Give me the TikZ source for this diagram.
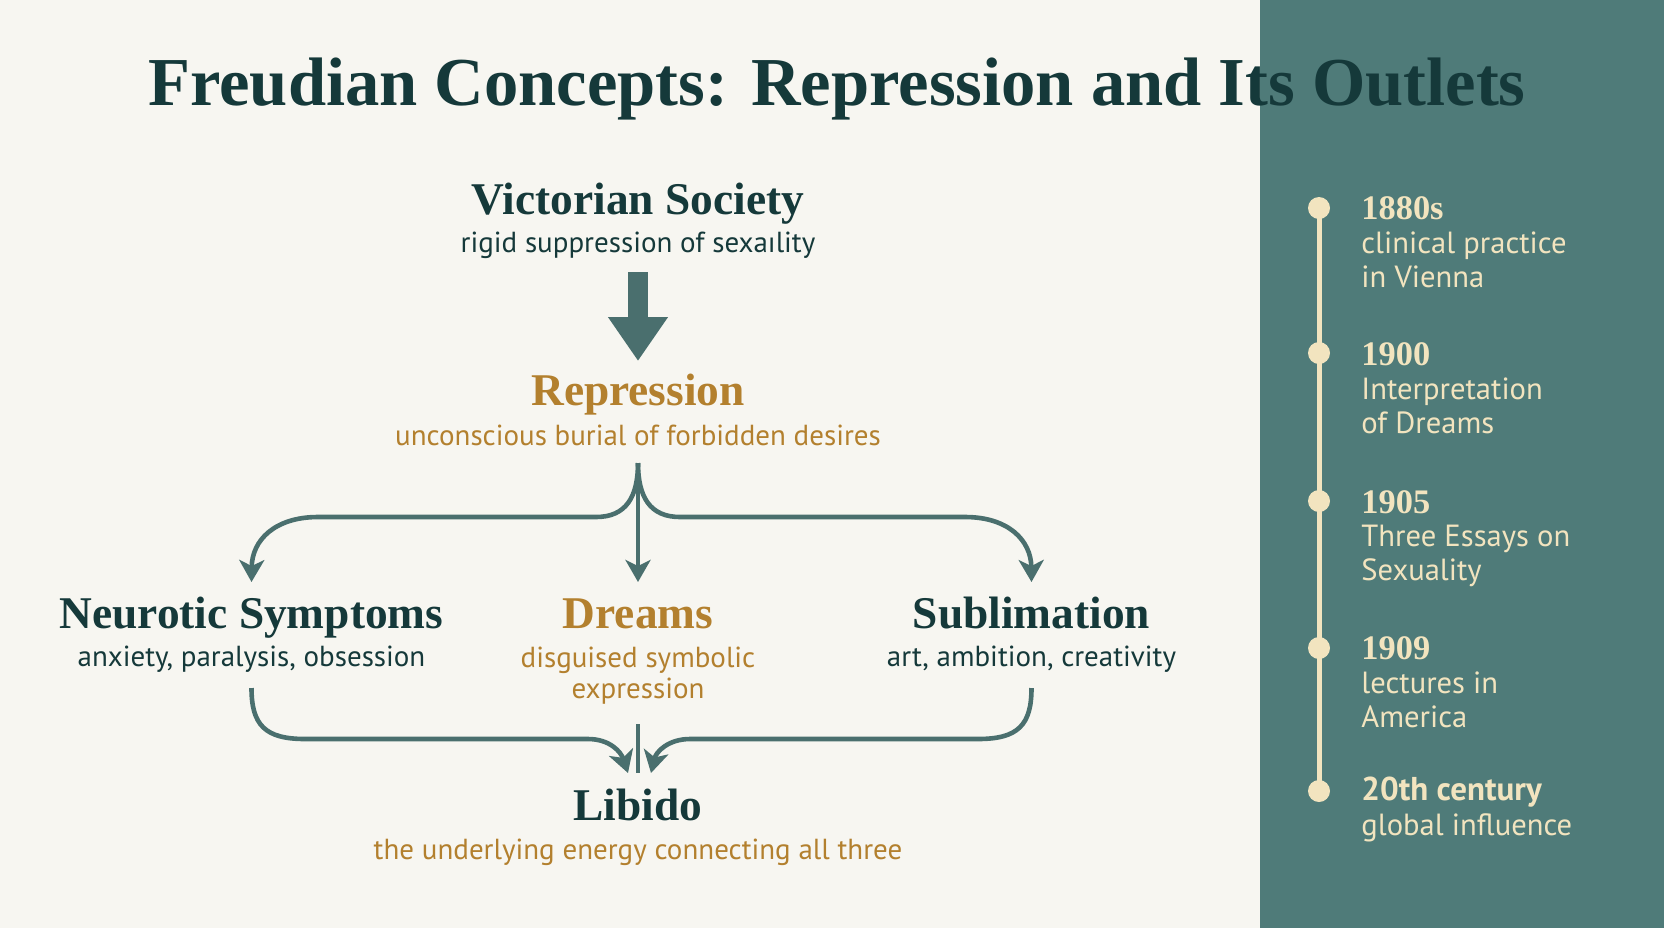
\documentclass[tikz,border=0pt]{standalone}
\usepackage{fontspec}
\setmainfont{Liberation Serif}
\setsansfont{PT Sans}
\usetikzlibrary{arrows.meta, positioning}
\definecolor{paper}{HTML}{F7F6F1}
\definecolor{ink}{HTML}{15393A}
\definecolor{ochre}{HTML}{B3802E}
\definecolor{slate}{HTML}{4A6F6E}
\definecolor{panel}{HTML}{4F7B79}
\definecolor{cream}{HTML}{F2E4BF}
\tikzset{
    freud/.style={x=0.5pt, y=-0.5pt, >={Stealth[length=11pt, width=12.5pt, inset=3pt]}},
    heading/.style={font=\fontsize{34.3}{40}\selectfont\bfseries, text=ink, inner sep=0pt, anchor=base},
    concept/.style={font=\fontsize{22.7}{26}\selectfont\bfseries, text=ink, inner sep=0pt, anchor=base},
    % multi-line glosses: the base anchor sits on the last line
    gloss/.style={font=\sffamily\fontsize{14.5}{15.5}\selectfont, text=ink, inner sep=0pt, anchor=base, align=center},
    flow/.style={draw=slate, line width=2.3pt, ->},
    bigarrow/.style={draw=slate, line width=10pt, -{Triangle[length=22pt, width=28.5pt]}},
    tdot/.style={fill=cream, circle, minimum size=11pt, inner sep=0pt},
    year/.style={font=\fontsize{17.2}{18}\selectfont\bfseries, text=cream, inner sep=0pt, anchor=base west},
    event/.style={font=\sffamily\fontsize{15.3}{17}\selectfont, text=cream, inner sep=0pt, anchor=base west, align=left},
}

\begin{document}
\begin{tikzpicture}[freud]
    % page and side panel
    \fill[paper] (0,0) rectangle (1664,928);
    \fill[panel] (1260,0) rectangle (1664,928);
    \useasboundingbox (0,0) rectangle (1664,928);

    \node[heading] (title) at (837,105) {Freudian Concepts: Repression and Its Outlets};

    % main chain
    \node[concept]             (vic)    at (638,214) {Victorian Society};
    \node[gloss]               (vicsub) at (638,252) {rigid suppression of sexaılity};
    \node[concept, text=ochre] (rep)    at (638,405) {Repression};
    \node[gloss, text=ochre]   (repsub) at (638,445) {unconscious burial of forbidden desires};

    \node[concept]             (neu)    at (251.5,628) {Neurotic Symptoms};
    \node[gloss]               (neusub) at (251.5,666) {anxiety, paralysis, obsession};
    \node[concept, text=ochre] (drm)    at (638,628) {Dreams};
    \node[gloss, text=ochre]   (drmsub) at (638,698) {disguised symbolic\\expression};
    \node[concept]             (sbl)    at (1031.5,628) {Sublimation};
    \node[gloss]               (sblsub) at (1031.5,666) {art, ambition, creativity};

    \node[concept]             (lib)    at (638,820) {Libido};
    \node[gloss, text=ochre]   (libsub) at (638,859) {the underlying energy connecting all three};

    \coordinate (vicfoot)  at (638,272);
    \coordinate (rephead)  at (638,361);
    \coordinate (fork)     at (638,463);
    \coordinate (neutop)   at (251.5,582);
    \coordinate (drmtop)   at (638,582);
    \coordinate (sbltop)   at (1031.5,582);
    \coordinate (neufoot)  at (251.5,688);
    \coordinate (drmfoot)  at (638,724);
    \coordinate (sblfoot)  at (1031.5,688);
    \coordinate (libleft)  at (628,773);
    \coordinate (libmid)   at (638,773);
    \coordinate (libright) at (651,773);

    \draw[bigarrow] (vicfoot) -- (rephead);

    \draw[flow] (fork) -- (drmtop);
    \draw[flow] (fork) .. controls (638,497) and (626,517) .. (596,517) -- (318,517)
        .. controls (275,517) and (252,540) .. (neutop);
    \draw[flow] (fork) .. controls (638,497) and (650,517) .. (680,517) -- (965,517)
        .. controls (1008,517) and (1031,540) .. (sbltop);

    \draw[flow] (neufoot) .. controls (251.5,725) and (265,739) .. (305,739) -- (588,739)
        .. controls (610,739) and (621,752) .. (libleft);
    \draw[slate, line width=2.3pt] (drmfoot) -- (libmid);
    \draw[flow] (sblfoot) .. controls (1031.5,725) and (1018,739) .. (978,739) -- (690,739)
        .. controls (668,739) and (656,752) .. (libright);

    % timeline
    \node[tdot] (t1) at (1319,208) {};
    \node[tdot] (t2) at (1319,353) {};
    \node[tdot] (t3) at (1319,501) {};
    \node[tdot] (t4) at (1319,648) {};
    \node[tdot] (t5) at (1319,791) {};
    \draw[cream, line width=2.5pt] (t1.center) -- (t5.center);

    \node[year]  (y1) at (1361,219) {1880s};
    \node[event] (e1) at (1361,287) {clinical practice\\in Vienna};
    \node[year]  (y2) at (1361,365) {1900};
    \node[event] (e2) at (1361,433) {Interpretation\\of Dreams};
    \node[year]  (y3) at (1361,513) {1905};
    \node[event] (e3) at (1361,580) {Three Essays on\\Sexuality};
    \node[year]  (y4) at (1361,659) {1909};
    \node[event] (e4) at (1361,727) {lectures in\\America};
    \node[event, font=\sffamily\bfseries\fontsize{16.5}{18}\selectfont] (y5) at (1361,800) {20th century};
    \node[event] (e5) at (1361,835) {global influence};
\end{tikzpicture}
\end{document}
